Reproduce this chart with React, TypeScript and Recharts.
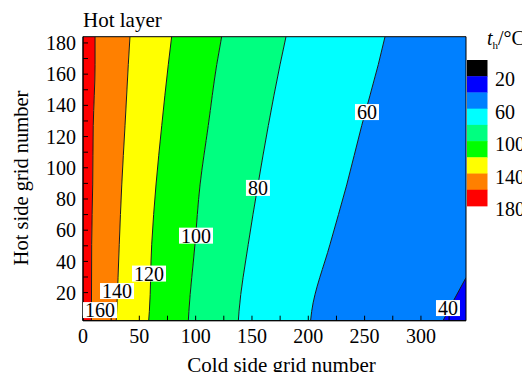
import React from 'react';
import { ComposedChart, Area, Line, XAxis, YAxis, ReferenceDot, ReferenceArea } from 'recharts';

// Rows of "hot side grid number" at which contour positions were read
const yRows = [2, 8, 51, 89, 127, 166, 184];
// x-position (cold side grid number) of each contour level at those rows
const c160 = [7.5, 7.5, 7.7, 8.6, 9.1, 10.7, 10.7];
const c140 = [29.5, 29.9, 32.2, 34.4, 37.3, 40.2, 41.7];
const c120 = [58.3, 58.9, 61, 64.8, 69.9, 75.7, 78.7];
const c100 = [93.5, 94, 99.4, 103.9, 111.2, 118.7, 123.1];
const c80 = [137.9, 138.5, 146.7, 155.3, 164.5, 174.9, 180.2];
const c60 = [202, 203, 219.3, 234.1, 247.4, 262.1, 268.1];
// 40 contour (bottom-right corner)
const c40Y = [2, 14.3, 29.6];
const c40X = [319.6, 328.5, 340];

const X_MIN = 0;
const X_MAX = 340;
const Y_MIN = 2;
const Y_MAX = 184;

const xTicks = [0, 25, 50, 75, 100, 125, 150, 175, 200, 225, 250, 275, 300, 325];
const yTicks = [10, 20, 30, 40, 50, 60, 70, 80, 90, 100, 110, 120, 130, 140, 150, 160, 170, 180];

// contour labels
const labelText = ['160', '140', '120', '100', '80', '60', '40'];
const labelX = [15.1, 30.2, 58.6, 100.3, 155.3, 252.1, 324];
const labelY = [8.8, 21, 32.2, 56.5, 87.1, 135.7, 10.1];

// colour bar (top to bottom)
const barColors = ['#000000', '#0000ff', '#0080ff', '#00ffff', '#00ff80', '#00ff00', '#ffff00', '#ff8000', '#ff0000'];
const barLabels = ['20', '60', '100', '140', '180'];

const C_RED = '#ff0000';
const C_ORANGE = '#ff8000';
const C_YELLOW = '#ffff00';
const C_GREEN = '#00ff00';
const C_LGREEN = '#00ff80';
const C_CYAN = '#00ffff';
const C_BLUE = '#0080ff';
const C_DBLUE = '#0000ff';

const data = yRows.map((y, i) => ({
  y,
  c160: c160[i],
  c140: c140[i],
  c120: c120[i],
  c100: c100[i],
  c80: c80[i],
  c60: c60[i],
}));

const data40 = c40Y.map((y, i) => ({ y, c40: c40X[i] }));

const FONT = '"Liberation Serif", "Times New Roman", serif';
const LINE = '#1a1a1a';

const LabelBox = ({ cx, cy, text }: { cx: number; cy: number; text: string }) => {
  const w = text.length * 10 + 4;
  const h = 16;
  return (
    <g>
      <rect x={cx - w / 2} y={cy - h / 2} width={w} height={h} fill="#ffffff" />
      <text x={cx} y={cy + 7} textAnchor="middle" fontSize={20} fontFamily={FONT} fill="#000">
        {text}
      </text>
    </g>
  );
};

export default function App() {
  const bands: { key: string; lo: (d: any) => number; hi: (d: any) => number; color: string }[] = [
    { key: 'b160', lo: () => X_MIN, hi: (d) => d.c160, color: C_RED },
    { key: 'b140', lo: (d) => d.c160, hi: (d) => d.c140, color: C_ORANGE },
    { key: 'b120', lo: (d) => d.c140, hi: (d) => d.c120, color: C_YELLOW },
    { key: 'b100', lo: (d) => d.c120, hi: (d) => d.c100, color: C_GREEN },
    { key: 'b80', lo: (d) => d.c100, hi: (d) => d.c80, color: C_LGREEN },
    { key: 'b60', lo: (d) => d.c80, hi: (d) => d.c60, color: C_CYAN },
    { key: 'b40', lo: (d) => d.c60, hi: () => X_MAX, color: C_BLUE },
  ];
  const lines = ['c160', 'c140', 'c120', 'c100', 'c80', 'c60'];
  return (
    <div style={{ position: 'relative', width: 514, height: 364 }}>
      <ComposedChart
        width={514}
        height={364}
        layout="vertical"
        data={data}
        margin={{ top: 28.7, right: 56, left: 15, bottom: 21.3 }}
      >
        <XAxis
          type="number"
          domain={[X_MIN, X_MAX]}
          allowDataOverflow
          ticks={xTicks}
          interval={0}
          tickFormatter={(v: number) => (v % 50 === 0 ? String(v) : '')}
          tickSize={-5}
          tickMargin={13}
          height={30}
          axisLine={{ stroke: '#000' }}
          tickLine={{ stroke: '#000' }}
          tick={{ fontSize: 20, fill: '#000', fontFamily: FONT }}
        />
        <YAxis
          type="number"
          dataKey="y"
          domain={[Y_MIN, Y_MAX]}
          reversed
          allowDataOverflow
          ticks={yTicks}
          interval={0}
          tickFormatter={(v: number) => (v % 20 === 0 ? String(v) : '')}
          tickSize={-5}
          tickMargin={12}
          width={60}
          axisLine={{ stroke: '#000' }}
          tickLine={{ stroke: '#000' }}
          tick={{ fontSize: 20, fill: '#000', fontFamily: FONT }}
        />
        {bands.map((b) => (
          <Area
            key={b.key}
            dataKey={(d: any) => [b.lo(d), b.hi(d)]}
            type="monotone"
            stroke="none"
            fill={b.color}
            fillOpacity={1}
            isAnimationActive={false}
          />
        ))}
        <Area
          data={data40}
          dataKey={(d: any) => [d.c40, X_MAX]}
          type="linear"
          stroke="none"
          fill={C_DBLUE}
          fillOpacity={1}
          isAnimationActive={false}
        />
        {lines.map((k) => (
          <Line
            key={k}
            dataKey={k}
            type="monotone"
            stroke={LINE}
            strokeWidth={1}
            dot={false}
            activeDot={false}
            isAnimationActive={false}
          />
        ))}
        <Line
          data={data40}
          dataKey="c40"
          type="linear"
          stroke={LINE}
          strokeWidth={1}
          dot={false}
          activeDot={false}
          isAnimationActive={false}
        />
        <ReferenceArea
          x1={X_MIN}
          x2={X_MAX}
          y1={Y_MIN}
          y2={Y_MAX}
          fill="none"
          fillOpacity={0}
          stroke="#000"
          strokeWidth={1}
          ifOverflow="visible"
        />
        {labelText.map((t, i) => (
          <ReferenceDot
            key={t}
            x={labelX[i]}
            y={labelY[i]}
            ifOverflow="visible"
            shape={(p: any) => <LabelBox cx={p.cx} cy={p.cy} text={t} />}
          />
        ))}
      </ComposedChart>
      <svg
        width={530}
        height={380}
        style={{ position: 'absolute', left: -8, top: -8, pointerEvents: 'none' }}
      >
        <text x={83} y={26.5} fontSize={21} fontFamily={FONT} fill="#000">
          Hot layer
        </text>
        <text x={281.5} y={371.5} fontSize={21} fontFamily={FONT} fill="#000" textAnchor="middle">
          Cold side grid number
        </text>
        <text
          x={0}
          y={0}
          transform="translate(28,178) rotate(-90)"
          fontSize={20.5}
          fontFamily={FONT}
          fill="#000"
          textAnchor="middle"
        >
          Hot side grid number
        </text>
        <text x={487} y={45} fontSize={20} fontFamily={FONT} fill="#000">
          <tspan fontStyle="italic">t</tspan>
          <tspan fontSize={11} dy={4}>h</tspan>
          <tspan dy={-4}>/°C</tspan>
        </text>
        {barColors.map((c, i) => (
          <rect key={c} x={467} y={60 + i * 16.22} width={20.5} height={16.6} fill={c} />
        ))}
        {barLabels.map((l, i) => (
          <text key={l} x={495} y={86 + i * 32.6} fontSize={20} fontFamily={FONT} fill="#000">
            {l}
          </text>
        ))}
      </svg>
    </div>
  );
}
